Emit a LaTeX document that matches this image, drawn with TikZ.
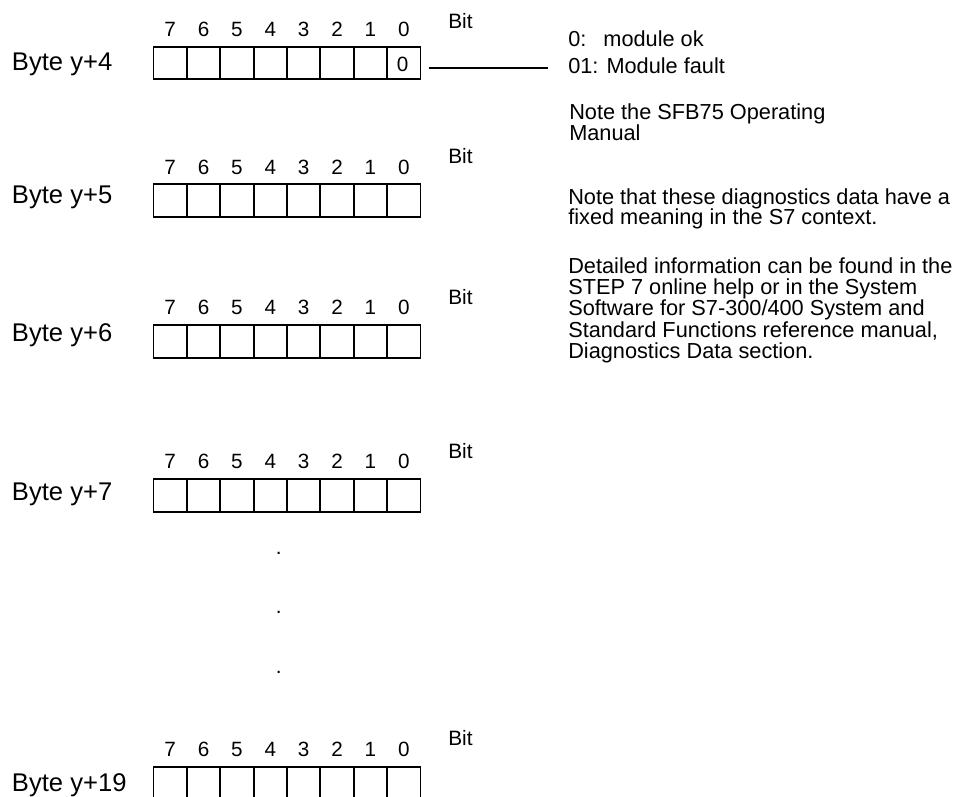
\documentclass[tikz,border=0pt]{standalone}
\usepackage{fontspec}
\setmainfont{Liberation Sans}
\begin{document}
\begin{tikzpicture}[x=0.75pt,y=-0.75pt,
  cell/.style={draw, line width=1.45pt, minimum width=25.03pt, minimum height=24.5pt, inner sep=0pt, outer sep=0pt},
  digit/.style={anchor=base, inner sep=0pt, font=\fontsize{15.5}{18}\selectfont},
  bitlbl/.style={anchor=base west, inner sep=0pt, font=\fontsize{15.6}{18}\selectfont},
  bytelbl/.style={anchor=base west, inner sep=0pt, font=\fontsize{19.2}{23}\selectfont},
  note/.style={anchor=base west, inner sep=0pt, font=\fontsize{16.3}{19}\selectfont},
  conn/.style={line width=0.9pt}]
\useasboundingbox (0,0) rectangle (955,796);
\clip (0,0) rectangle (955,796);
\foreach \r/\t/\lab/\bb/\yb in {4/46.7/y+4/28.3/70, 5/184.3/y+5/163.3/203, 6/325/y+6/304/341.7, 7/479/y+7/458/500, 19/766.7/y+19/745/791.7} {
  \node[bytelbl] (byte\r) at (11.7,\yb) {Byte \lab};
  \node[bitlbl] (bit\r) at (448,\bb) {Bit};
  \foreach \i in {0,...,7} {
    \pgfmathsetmacro\cx{153.5+33.375*(\i+0.5)}
    \pgfmathtruncatemacro\b{7-\i}
    \node[cell] (c\r-\b) at (\cx,\t+16.35) {};
    \node[digit] (d\r-\b) at (\cx,\t-10.2) {\b};
  }
}
\node[digit] (v4-0) at (402.5,71) {0};
% dots
\node[digit] (dot1) at (278.7,554) {.};
\node[digit] (dot2) at (278.7,613) {.};
\node[digit] (dot3) at (278.7,673) {.};
% right texts
\node[note] (ok) at (568,46) {0:\hskip 12.75pt module ok};
\node[note] (fault) at (568,73.3) {01: Module fault};
\node[note] (sfb) at (569,119.3) {\vtop{\baselineskip=13.8pt\hbox{Note the SFB75 Operating}\hbox{Manual}}};
\node[note] (fixed) at (568,204.3) {\vtop{\baselineskip=15.5pt\hbox{Note that these diagnostics data have a}\hbox{fixed meaning in the S7 context.}}};
\node[note] (detail) at (568,273.3) {\vtop{\baselineskip=15.95pt\hbox{Detailed information can be found in the}\hbox{STEP 7 online help or in the System}\hbox{Software for S7-300/400 System and}\hbox{Standard Functions reference manual,}\hbox{Diagnostics Data section.}}};
\coordinate (faultin) at ([yshift=4pt]fault.base west);
\draw[conn, shorten <=6pt, shorten >=15pt] (c4-0.east |- faultin) -- (faultin);
\end{tikzpicture}
\end{document}
